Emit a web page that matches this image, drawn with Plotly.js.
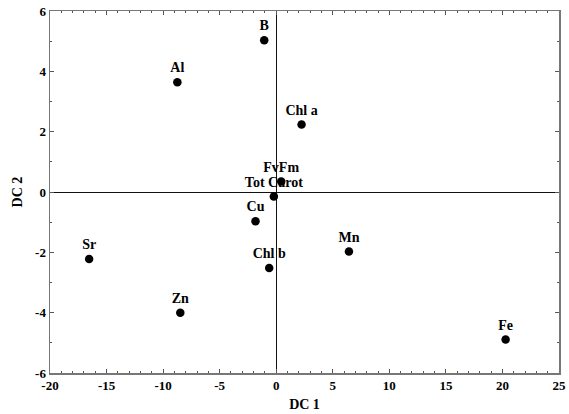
<!DOCTYPE html>
<html>
<head>
<meta charset="utf-8">
<script src="https://cdn.plot.ly/plotly-3.0.1.min.js"></script>
<style>html,body{margin:0;padding:0;background:#fff;}#chart{width:569px;height:414px;}</style>
</head>
<body>
<div id="chart"></div>
<script>
var labels = ["B", "Al", "Chl a", "FvFm", "Tot Carot", "Cu", "Chl b", "Sr", "Zn", "Mn", "Fe"];
var dc1 = [-1.06, -8.74, 2.24, 0.44, -0.21, -1.83, -0.62, -16.54, -8.48, 6.43, 20.28];
var dc2 = [5.03, 3.64, 2.24, 0.35, -0.15, -0.97, -2.52, -2.22, -4.0, -1.97, -4.89];
var xTicks = [-20, -15, -10, -5, 0, 5, 10, 15, 20, 25];
var yTicks = [-6, -4, -2, 0, 2, 4, 6];

var font = "Liberation Serif, Times New Roman, serif";
var trace = {
  x: dc1, y: dc2, text: labels,
  mode: "markers+text", type: "scatter",
  textposition: "top center",
  textfont: {family: font, size: 14, color: "#000", weight: "bold"},
  marker: {color: "#000", size: 8.5},
  cliponaxis: false,
  hoverinfo: "none"
};
var axisCommon = {
  showgrid: false,
  zeroline: true, zerolinecolor: "#111", zerolinewidth: 1,
  showline: true, linecolor: "#777", linewidth: 1.5, mirror: "ticks",
  ticks: "inside", ticklen: 4, tickcolor: "#555", tickwidth: 1,
  tickfont: {family: font, size: 13, color: "#000", weight: "bold"},
  tickmode: "array"
};
var layout = {
  width: 569, height: 414,
  margin: {l: 50, r: 10, t: 11, b: 41},
  paper_bgcolor: "#fff", plot_bgcolor: "#fff",
  showlegend: false,
  xaxis: Object.assign({}, axisCommon, {
    range: [-20, 25], tickvals: xTicks, ticktext: xTicks.map(String),
    minor: {dtick: 1, tick0: 0, ticks: "inside", ticklen: 2, tickcolor: "#555"},
    title: {text: "DC 1", font: {family: font, size: 14, color: "#000", weight: "bold"}, standoff: 7}
  }),
  yaxis: Object.assign({}, axisCommon, {
    range: [-6, 6], tickvals: yTicks, ticktext: yTicks.map(String),
    minor: {dtick: 1, tick0: 0, ticks: "inside", ticklen: 2, tickcolor: "#555"},
    title: {text: "DC 2", font: {family: font, size: 14, color: "#000", weight: "bold"}, standoff: 9}
  })
};
Plotly.newPlot("chart", [trace], layout, {displayModeBar: false, staticPlot: true});
</script>
</body>
</html>
